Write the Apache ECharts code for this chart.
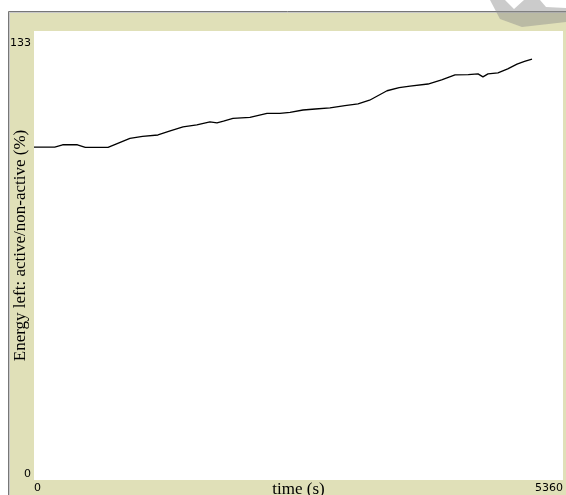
<!DOCTYPE html>
<html>
<head>
<meta charset="utf-8">
<script src="https://cdn.jsdelivr.net/npm/echarts@6/dist/echarts.min.js"></script>
<style>
html,body{margin:0;padding:0;background:#fff;}
#c{width:566px;height:495px;}
</style>
</head>
<body>
<div id="c"></div>
<script>
// Data
var times  = [0, 210, 290, 440, 520, 750, 972, 1100, 1256, 1380, 1510, 1650, 1783, 1854, 1920, 2016, 2188, 2361, 2492, 2594, 2726, 2850, 2999, 3150, 3283, 3400, 3577, 3700, 3810, 3992, 4130, 4266, 4400, 4499, 4549, 4600, 4701, 4800, 4894, 4970, 5046];
var energy = [98.6, 98.6, 99.3, 99.3, 98.5, 98.5, 101.2, 101.8, 102.2, 103.4, 104.6, 105.2, 106.1, 105.8, 106.3, 107.1, 107.4, 108.6, 108.6, 108.9, 109.6, 109.9, 110.2, 110.9, 111.4, 112.5, 115.3, 116.2, 116.7, 117.3, 118.5, 120.0, 120.1, 120.3, 119.4, 120.3, 120.6, 121.8, 123.2, 124.0, 124.7];
var xMin = 0, xMax = 5360;
var yMin = 0, yMax = 133;
var xName = 'time (s)';
var yName = 'Energy left: active/non-active (%)';

var points = times.map(function (t, i) { return [t, energy[i]]; });

var chart = echarts.init(document.getElementById('c'), null, {renderer: 'canvas'});
var labelFont = '"DejaVu Sans", Verdana, sans-serif';
var serif = '"Liberation Serif", "Times New Roman", serif';
chart.setOption({
  backgroundColor: '#ffffff',
  animation: false,
  graphic: [
    {type: 'rect', z: -10, shape: {x: 9, y: 12, width: 557, height: 483}, style: {fill: '#e0e0b8'}},
    {type: 'line', z: -9, shape: {x1: 8.5, y1: 11.5, x2: 566, y2: 11.5}, style: {stroke: '#777', lineWidth: 1}},
    {type: 'line', z: -9, shape: {x1: 8.5, y1: 11.5, x2: 8.5, y2: 495}, style: {stroke: '#777', lineWidth: 1}},
    {type: 'line', z: -9, shape: {x1: 9.5, y1: 12.5, x2: 566, y2: 12.5}, style: {stroke: '#c8c8c8', lineWidth: 1}},
    {type: 'line', z: -9, shape: {x1: 9.5, y1: 12.5, x2: 9.5, y2: 495}, style: {stroke: '#c8c8c8', lineWidth: 1}},
    {type: 'polygon', z: 100, shape: {points: [[490, 0], [505, 0], [514, 9], [524, 0], [540, 0], [546, 7], [566, 8], [566, 22], [522, 27], [500, 19]]},
     style: {fill: 'rgba(140,140,140,0.45)'}}
  ],
  grid: {left: 34, top: 31, right: 3, bottom: 15, show: true, backgroundColor: '#ffffff', borderWidth: 0,
         containLabel: false, outerBoundsMode: 'none'},
  xAxis: {
    type: 'value', min: xMin, max: xMax, interval: xMax,
    name: xName, nameLocation: 'middle', nameGap: 1, nameMoveOverlap: false,
    nameTextStyle: {fontFamily: serif, fontSize: 17, color: '#000', verticalAlign: 'top'},
    axisLine: {show: false}, axisTick: {show: false}, splitLine: {show: false},
    axisLabel: {margin: 3, fontFamily: labelFont, fontSize: 11, color: '#000',
                alignMinLabel: 'left', alignMaxLabel: 'right', verticalAlign: 'top',
                formatter: function (v) { return String(v); }}
  },
  yAxis: {
    type: 'value', min: yMin, max: yMax, interval: yMax,
    name: yName, nameLocation: 'middle', nameGap: 5, nameMoveOverlap: false,
    nameTextStyle: {fontFamily: serif, fontSize: 17, color: '#000', padding: [0, 0, 0, 20]},
    axisLine: {show: false}, axisTick: {show: false}, splitLine: {show: false},
    axisLabel: {margin: 3, fontFamily: labelFont, fontSize: 11, color: '#000',
                verticalAlignMinLabel: 'bottom', verticalAlignMaxLabel: 'top',
                formatter: function (v) { return v === yMax ? '{t|' + v + '}' : String(v); },
                rich: {t: {padding: [7, 0, 0, 0], fontFamily: labelFont, fontSize: 11, color: '#000'}}}
  },
  series: [{
    type: 'line', data: points, showSymbol: false, symbol: 'none',
    lineStyle: {color: '#000', width: 1.3}
  }]
});
</script>
</body>
</html>
